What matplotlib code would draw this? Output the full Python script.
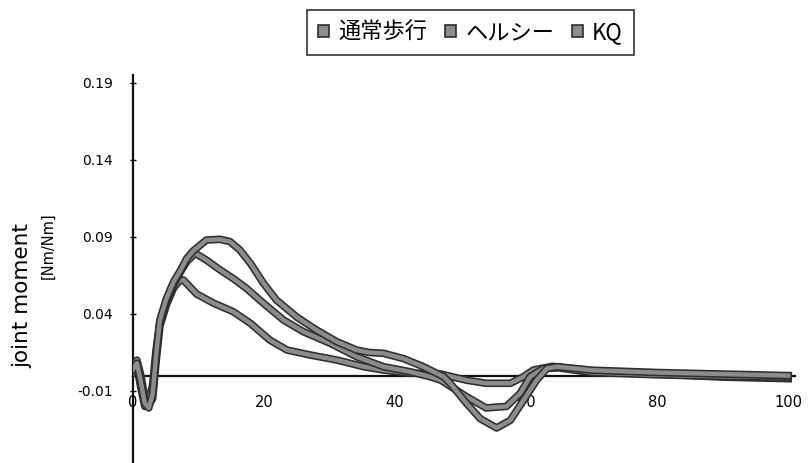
import numpy as np
import matplotlib
matplotlib.use("Agg")

import matplotlib.pyplot as plt
import matplotlib.patheffects as pe
from matplotlib.patches import Patch

plt.rcParams['font.family'] = ['DejaVu Sans']

# knee joint moment over the gait cycle [%]
series_names = ["通常歩行", "ヘルシー", "KQ"]

x_normal = [0, 0.6, 1.2, 1.8, 2.4, 3.0, 3.5, 4.1, 5.1, 6.2, 7.2, 7.7, 9.7, 12.3,
            15.3, 17.9, 20.9, 23.5, 27, 31.1, 35.2, 38.2, 42.3, 45.3, 47, 50.9,
            53.9, 57.6, 59.6, 61.1, 64, 70, 80, 90, 100]
y_normal = [0.006, 0.010, 0.0, -0.014, -0.019, -0.015, 0.008, 0.032, 0.046, 0.057,
            0.062, 0.062, 0.053, 0.047, 0.0415, 0.034, 0.023, 0.0166, 0.0134,
            0.0101, 0.0058, 0.0036, 0.0015, 0.0015, 0.001, -0.003, -0.005, -0.005,
            -0.0007, 0.0036, 0.006, 0.003, 0.001, -0.001, -0.002]

x_healthy = [0, 0.6, 1.2, 1.8, 2.4, 3.0, 3.5, 4.1, 5.1, 6.2, 7.2, 8.2, 9.5, 11.2,
             13.3, 15.3, 17.3, 19.9, 23, 26, 30.1, 34.1, 38.2, 42.3, 45.3, 47,
             50.9, 53.9, 57, 59.1, 60.6, 62.7, 65, 70, 80, 90, 100]
y_healthy = [0.002, 0.006, -0.008, -0.020, -0.017, -0.006, 0.016, 0.035, 0.048,
             0.059, 0.067, 0.074, 0.0794, 0.075, 0.0686, 0.063, 0.0567, 0.047,
             0.036, 0.0285, 0.021, 0.0123, 0.0058, 0.0025, -0.0007, -0.003,
             -0.0137, -0.021, -0.020, -0.0115, -0.0007, 0.0047, 0.005, 0.002,
             0.0005, -0.0005, -0.001]

x_kq = [0, 0.6, 1.2, 1.8, 2.4, 3.0, 3.5, 4.1, 5.1, 6.2, 7.2, 8.2, 9.2, 10.2, 11.2,
        13.3, 14.8, 16.3, 17.9, 19.9, 21.9, 25, 28, 31.1, 34.1, 36, 38.2, 41.3,
        44.3, 47.4, 48.4, 50.9, 53, 55.5, 57.6, 59.6, 61.6, 63.2, 64.7, 70, 80,
        90, 100]
y_kq = [0.004, 0.008, -0.004, -0.018, -0.021, -0.012, 0.012, 0.036, 0.050, 0.061,
        0.068, 0.076, 0.081, 0.0845, 0.088, 0.0885, 0.087, 0.0816, 0.073, 0.060,
        0.049, 0.038, 0.0296, 0.022, 0.0166, 0.015, 0.0145, 0.011, 0.0058,
        -0.0007, -0.005, -0.018, -0.028, -0.034, -0.029, -0.016, -0.003, 0.0047,
        0.0058, 0.0035, 0.002, 0.001, 0.0]

y_ticks = [-0.06, -0.01, 0.04, 0.09, 0.14, 0.19]
y_ticklabels = ["-0.06", "-0.01", "0.04", "0.09", "0.14", "0.19"]
x_ticks = [0, 20, 40, 60, 80, 100]

line_gray = "#8c8c8c"
edge_dark = "#2e2e2e"

fig = plt.figure(figsize=(8.09, 4.63), dpi=100)
ax = fig.add_axes([0.1644, -0.0274, 0.818, 0.8648])

stroke = [pe.Stroke(linewidth=5.5, foreground=edge_dark), pe.Normal()]
for xs, ys in [(x_normal, y_normal), (x_healthy, y_healthy), (x_kq, y_kq)]:
    ax.plot(xs, ys, color=line_gray, lw=3.2, solid_joinstyle='round',
            path_effects=stroke, zorder=3)

ax.set_xlim(0, 101)
ax.set_ylim(-0.065, 0.195)

ax.spines['top'].set_visible(False)
ax.spines['right'].set_visible(False)
ax.spines['bottom'].set_position(('data', 0))
ax.spines['bottom'].set_linewidth(1.6)
ax.spines['bottom'].set_color('#111111')
ax.spines['left'].set_linewidth(1.6)
ax.spines['left'].set_color('#111111')

ax.set_yticks(y_ticks)
ax.set_yticklabels(y_ticklabels)
ax.set_xticks(x_ticks)
ax.tick_params(axis='y', direction='inout', length=5, width=1, pad=12,
               labelsize=10)
ax.tick_params(axis='x', length=0, pad=14, labelsize=10.5)

fig.text(0.027, 0.362, "joint moment", rotation=90, ha='center', va='center',
         fontsize=15.5)
fig.text(0.06, 0.47, "[Nm/Nm]", rotation=90, ha='center', va='center',
         fontsize=10.5)

handles = [Patch(facecolor=line_gray, edgecolor=edge_dark, lw=1.2)
           for _ in series_names]
leg = fig.legend(handles, series_names, loc='center', ncol=3,
                 bbox_to_anchor=(0.5816, 0.93), frameon=True, fancybox=False,
                 handlelength=0.5, handleheight=0.5, handletextpad=0.4,
                 columnspacing=0.8, borderpad=0.5, borderaxespad=0.0,
                 prop={'family': ['Noto Sans CJK JP', 'DejaVu Sans'], 'size': 16})
leg.get_frame().set_edgecolor('black')
leg.get_frame().set_linewidth(1.2)

fig.savefig("out.png", dpi=100)
